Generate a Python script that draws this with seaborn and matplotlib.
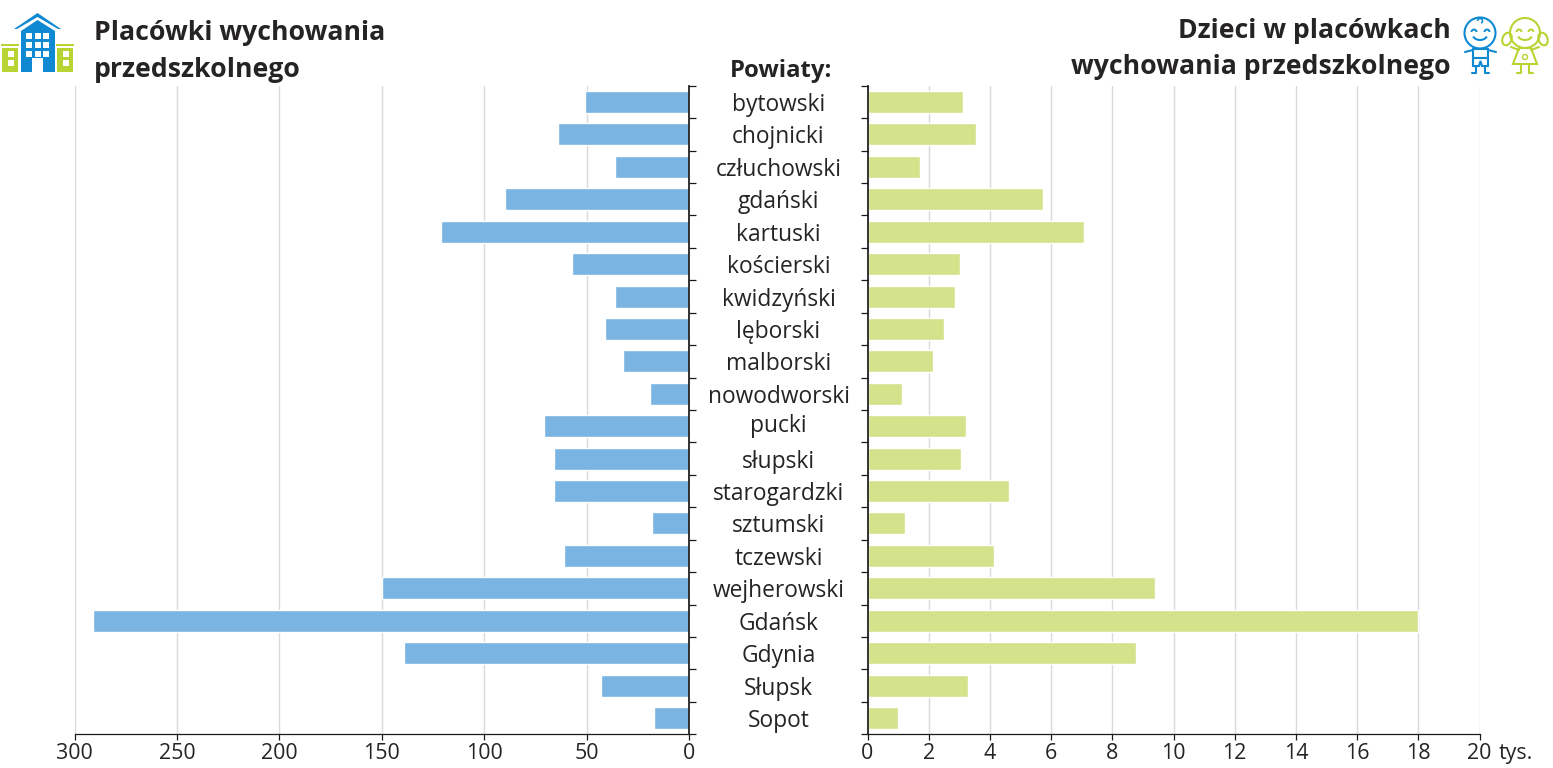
import matplotlib
matplotlib.use("Agg")
import matplotlib.pyplot as plt
from matplotlib.patches import Polygon, Rectangle, Circle, Arc, Ellipse
from matplotlib.transforms import ScaledTranslation
import pandas as pd
import seaborn as sns

powiaty = ["bytowski", "chojnicki", "człuchowski", "gdański", "kartuski", "kościerski",
           "kwidzyński", "lęborski", "malborski", "nowodworski", "pucki", "słupski",
           "starogardzki", "sztumski", "tczewski", "wejherowski", "Gdańsk", "Gdynia",
           "Słupsk", "Sopot"]
placowki = [51, 64, 36, 90, 121, 57, 36, 41, 32, 19, 71, 66, 66, 18, 61, 150, 291, 139, 43, 17]
dzieci = [3.12, 3.55, 1.72, 5.74, 7.08, 3.03, 2.87, 2.5, 2.15, 1.13, 3.23, 3.06, 4.63, 1.23,
          4.15, 9.4, 18.0, 8.78, 3.3, 1.0]
left_ticks = [0, 50, 100, 150, 200, 250, 300]
right_ticks = [0, 2, 4, 6, 8, 10, 12, 14, 16, 18, 20]

W, H = 1553, 768
DPI = 100
FONT = "Open Sans"
TEXT = "#262324"
BLUE = "#79B4E3"
GREEN = "#D4E38B"
GRID = "#DADADA"
ICON_BLUE = "#0F8AD2"
ICON_GREEN = "#B7D433"

sns.set_theme(style="white")
plt.rcParams["font.family"] = [FONT, "DejaVu Sans"]

df = pd.DataFrame({"powiat": powiaty, "placowki": placowki, "dzieci": dzieci})
fig = plt.figure(figsize=(W / DPI, H / DPI), dpi=DPI)


def px_axes(x0, x1, y0, y1, **kw):
    return fig.add_axes([x0 / W, 1 - y1 / H, (x1 - x0) / W, (y1 - y0) / H], **kw)


Y0, Y1 = 85.8, 734.2
axL = px_axes(74.5, 689, Y0, Y1)
axR = px_axes(867.5, 1479.5, Y0, Y1)

sns.barplot(data=df, y="powiat", x="placowki", ax=axL, color=BLUE, saturation=1, width=0.68, orient="h")
sns.barplot(data=df, y="powiat", x="dzieci", ax=axR, color=GREEN, saturation=1, width=0.68, orient="h")

n = len(powiaty)
bounds = [i - 0.5 for i in range(n + 1)]
TICK_FS = 15.4
for ax in (axL, axR):
    ax.set_xlabel("")
    ax.set_ylabel("")
    ax.set_axisbelow(True)
    ax.grid(axis="x", color=GRID, lw=1.0)
    ax.grid(axis="y", visible=False)
    ax.set_ylim(n - 0.5, -0.5)
    ax.set_yticks(bounds)
    ax.set_yticklabels([])
    for s in ("top", "left", "right", "bottom"):
        ax.spines[s].set_visible(False)
    ax.spines["bottom"].set_visible(True)
    ax.spines["bottom"].set_color("#1a1a1a")
    ax.spines["bottom"].set_linewidth(0.9)
    ax.tick_params(axis="x", length=4, width=0.9, color="#1a1a1a", labelsize=TICK_FS, labelcolor=TEXT, pad=2.5, bottom=True)
    ax.tick_params(axis="y", length=5, width=0.9, color="#1a1a1a")

axL.set_xlim(300, 0)
axL.set_xticks(left_ticks)
axL.spines["right"].set_visible(True)
axL.spines["right"].set_color("#1a1a1a")
axL.yaxis.tick_right()
axL.tick_params(axis="y", which="major", right=True, left=False, labelright=False)

axR.set_xlim(0, 20)
axR.set_xticks(right_ticks)
axR.spines["left"].set_visible(True)
axR.spines["left"].set_color("#1a1a1a")
axR.tick_params(axis="y", which="major", left=True, labelleft=False)
axR.annotate("tys.", xy=(20, 0), xycoords=("data", "axes fraction"), xytext=(14, -18), textcoords="offset points",
             ha="left", va="baseline", fontsize=TICK_FS, color=TEXT)

# category labels as minor ticks of the left axes, centred between the panels
axL.set_yticks(range(n), labels=powiaty, minor=True)
axL.tick_params(axis="y", which="minor", length=0, right=False, left=False, labelright=True, labelleft=False,
                pad=(778.5 - 689) * 72 / DPI, labelsize=16.4, labelcolor=TEXT)
for lab in axL.get_yticklabels(minor=True):
    lab.set_ha("center")
    if lab.get_text() == "pucki":
        lab.set_transform(lab.get_transform() + ScaledTranslation(0, 3 / DPI, fig.dpi_scale_trans))

# overlay in pixel coordinates for titles and pictograms
ov = fig.add_axes([0, 0, 1, 1], zorder=5)
ov.set_xlim(0, W)
ov.set_ylim(H, 0)
ov.axis("off")
ov.patch.set_alpha(0)

tkw = dict(fontsize=19.2, fontweight="bold", color=TEXT, va="baseline")
ov.text(94, 40, "Placówki wychowania", ha="left", **tkw)
ov.text(94, 77, "przedszkolnego", ha="left", **tkw)
ov.text(1451, 38.5, "Dzieci w placówkach", ha="right", **tkw)
ov.text(1451, 74.5, "wychowania przedszkolnego", ha="right", **tkw)
ov.text(781.5, 77, "Powiaty:", ha="center", fontsize=17.2, fontweight="bold", color=TEXT, va="baseline")

# building pictogram
ov.add_patch(Polygon([(14, 29), (37.5, 13), (61, 29), (58, 29), (37.5, 17), (17, 29)], color=ICON_BLUE, lw=0))
ov.add_patch(Polygon([(21, 72), (21, 31), (37.5, 20), (55, 31), (55, 72)], color=ICON_BLUE, lw=0))
for wx in (26, 34.5, 43):
    for wy in (33, 42, 51):
        ov.add_patch(Rectangle((wx, wy), 6, 6, color="white", lw=0))
ov.add_patch(Rectangle((32, 58), 11, 14, color="white", lw=0))
for x0 in (2, 57):
    ov.add_patch(Rectangle((x0 - 1, 44), 18, 2, color=ICON_GREEN, lw=0))
    ov.add_patch(Rectangle((x0, 48), 16, 24, color=ICON_GREEN, lw=0))
    ov.add_patch(Rectangle((x0 + 5.5, 50.5), 6, 6, color="white", lw=0))
    ov.add_patch(Rectangle((x0 + 5.5, 59.5), 6, 6, color="white", lw=0))

# boy pictogram
b = dict(color=ICON_BLUE, lw=1.5, fill=False)
ov.add_patch(Circle((1480, 33), 15.5, **b))
ov.add_patch(Arc((1474, 32), 5, 5, theta1=180, theta2=360, color=ICON_BLUE, lw=1.4))
ov.add_patch(Arc((1487, 32), 5, 5, theta1=180, theta2=360, color=ICON_BLUE, lw=1.4))
ov.add_patch(Arc((1480, 34), 15, 12, theta1=20, theta2=160, color=ICON_BLUE, lw=1.5))
ov.add_patch(Arc((1480, 21), 5, 5, theta1=180, theta2=60, color=ICON_BLUE, lw=1.2))
ov.add_patch(Polygon([(1473, 49), (1488, 49), (1488, 58), (1473, 58)], **b))
ov.add_patch(Polygon([(1473, 58), (1488, 58), (1488, 66), (1482, 66), (1480.5, 61), (1479, 66), (1473, 66)], **b))
ov.plot([1473, 1465], [50, 52], color=ICON_BLUE, lw=1.5)
ov.plot([1488, 1496], [50, 52], color=ICON_BLUE, lw=1.5)
ov.plot([1476, 1476, 1472], [66, 73, 73], color=ICON_BLUE, lw=1.5)
ov.plot([1485, 1485, 1489], [66, 73, 73], color=ICON_BLUE, lw=1.5)

# girl pictogram
g = dict(color=ICON_GREEN, lw=1.5, fill=False)
ov.add_patch(Circle((1525, 33), 15, **g))
ov.add_patch(Ellipse((1507, 39), 9, 13, angle=20, **g))
ov.add_patch(Ellipse((1543, 39), 9, 13, angle=-20, **g))
ov.add_patch(Arc((1519, 32), 5, 5, theta1=180, theta2=360, color=ICON_GREEN, lw=1.4))
ov.add_patch(Arc((1531, 32), 5, 5, theta1=180, theta2=360, color=ICON_GREEN, lw=1.4))
ov.add_patch(Arc((1525, 34), 15, 12, theta1=20, theta2=160, color=ICON_GREEN, lw=1.5))
ov.add_patch(Polygon([(1519, 48), (1531, 48), (1537, 64), (1513, 64)], **g))
ov.add_patch(Circle((1525, 57), 2.5, color=ICON_GREEN, lw=1, fill=False))
ov.plot([1519, 1511], [50, 47], color=ICON_GREEN, lw=1.5)
ov.plot([1531, 1539], [50, 47], color=ICON_GREEN, lw=1.5)
ov.plot([1521, 1521, 1517], [64, 73, 73], color=ICON_GREEN, lw=1.5)
ov.plot([1529, 1529, 1533], [64, 73, 73], color=ICON_GREEN, lw=1.5)
ov.set_xlim(0, W)
ov.set_ylim(H, 0)

fig.savefig("out.png", dpi=DPI, facecolor="white")
